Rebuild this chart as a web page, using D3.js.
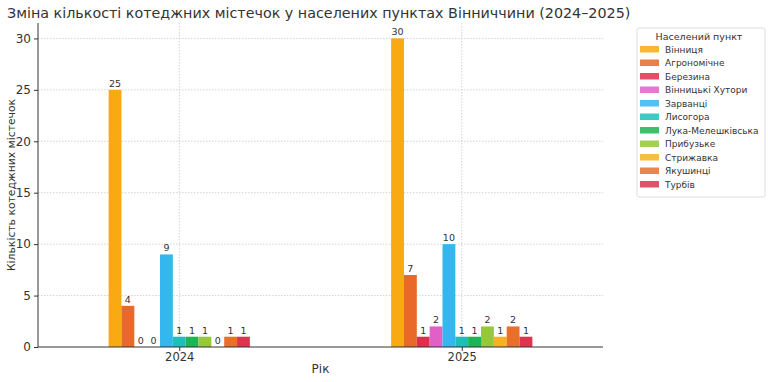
<!DOCTYPE html>
<html><head><meta charset="utf-8">
<script src="https://cdn.jsdelivr.net/npm/d3@7"></script>
<style>body{margin:0;background:#fff}svg{display:block;font-family:"DejaVu Sans",sans-serif}</style>
</head><body><svg id="c" width="768" height="382"></svg>
<script>
const years = ["2024", "2025"];
const places = ["Вінниця","Агрономічне","Березина","Вінницькі Хутори","Зарванці","Лисогора","Лука-Мелешківська","Прибузьке","Стрижавка","Якушинці","Турбів"];
const values2024 = [25,4,0,0,9,1,1,1,0,1,1];
const values2025 = [30,7,1,2,10,1,1,2,1,2,1];
const colors = ["#f9aa12","#e8692a","#df2f4c","#e35fc8","#34b7ef","#1ebfb9","#1cb455","#95c83a","#f8b122","#e8702b","#dd3550"];
const yTicks = [0,5,10,15,20,25,30];
const title = "Зміна кількості котеджних містечок у населених пунктах Вінниччини (2024–2025)";
const yLabel = "Кількість котеджних містечок";
const xLabel = "Рік";
const legendTitle = "Населений пункт";

const series = [values2024, values2025];
const svg = d3.select("#c");
const L = 38, R = 603, T = 23, B = 347;

const x = d3.scaleLinear().domain([-0.5, 1.5]).range([L, R]);
const y = d3.scaleLinear().domain([0, 31.5]).range([B, T]);
const n = places.length;
const bw = 0.5 / n;

// grid
svg.append("g").selectAll("line").data(yTicks.filter(d=>d>0)).join("line")
  .attr("x1", L).attr("x2", R).attr("y1", d=>y(d)).attr("y2", d=>y(d))
  .attr("stroke", "#c8c8c8").attr("stroke-width", 0.8).attr("stroke-dasharray", "1.5,1.5");
svg.append("g").selectAll("line").data(years).join("line")
  .attr("x1", (d,i)=>x(i)).attr("x2", (d,i)=>x(i)).attr("y1", T).attr("y2", B)
  .attr("stroke", "#c8c8c8").attr("stroke-width", 0.8).attr("stroke-dasharray", "1.5,1.5");

// bars
places.forEach((p, j) => {
  const g = svg.append("g");
  const data = years.map((yr, i) => ({i, v: series[i][j]}));
  g.selectAll("rect").data(data).join("rect")
    .attr("x", d => x(d.i - 0.25 + j*bw))
    .attr("width", x(bw) - x(0))
    .attr("y", d => y(d.v))
    .attr("height", d => B - y(d.v))
    .attr("fill", colors[j]);
  g.selectAll("text").data(data).join("text")
    .attr("x", d => x(d.i - 0.25 + (j+0.5)*bw))
    .attr("y", d => y(d.v) - 3)
    .attr("text-anchor", "middle").attr("font-size", 9.5).attr("fill", "#333")
    .text(d => d.v);
});

// axes
const yAxis = d3.axisLeft(y).tickValues(yTicks).tickSize(4).tickPadding(3);
const ga = svg.append("g").attr("transform", `translate(${L},0)`).call(yAxis);
ga.select(".domain").attr("stroke", "#333").attr("d", `M0,${T}V${B}`);
ga.selectAll(".tick line").attr("stroke", "#333");
ga.selectAll(".tick text").attr("font-size", 12).attr("fill", "#333").attr("font-family", "DejaVu Sans");

const xAxis = d3.axisBottom(x).tickValues([0,1]).tickFormat((d)=>years[d]).tickSize(4).tickPadding(2);
const gx = svg.append("g").attr("transform", `translate(0,${B})`).call(xAxis);
gx.select(".domain").attr("stroke", "#333").attr("d", `M${L},0H${R}`);
gx.selectAll(".tick line").attr("stroke", "#333");
gx.selectAll(".tick text").attr("font-size", 11.5).attr("fill", "#333").attr("font-family", "DejaVu Sans");

// labels
svg.append("text").attr("x", 7).attr("y", 18).attr("font-size", 14.3).attr("fill", "#333").text(title);
svg.append("text").attr("transform", `translate(15,${(T+B)/2}) rotate(-90)`).attr("text-anchor", "middle")
  .attr("font-size", 10.8).attr("fill", "#333").text(yLabel);
svg.append("text").attr("x", (L+R)/2).attr("y", 373).attr("text-anchor", "middle")
  .attr("font-size", 12).attr("fill", "#333").text(xLabel);

// legend
const lg = svg.append("g");
lg.append("rect").attr("x", 637).attr("y", 28).attr("width", 128).attr("height", 169).attr("rx", 2)
  .attr("fill", "#fff").attr("stroke", "#ddd");
lg.append("text").attr("x", 699).attr("y", 40).attr("text-anchor", "middle").attr("font-size", 9.5).attr("fill", "#333").text(legendTitle);
const items = lg.selectAll("g.it").data(places).join("g").attr("class", "it")
  .attr("transform", (d,i) => `translate(0,${49 + i*13.5})`);
items.append("rect").attr("x", 640).attr("y", -3).attr("width", 19).attr("height", 6.5)
  .attr("fill", (d,i)=>colors[i]).attr("opacity", 0.85);
items.append("text").attr("x", 665).attr("y", 3.5).attr("font-size", 9).attr("fill", "#333").text(d=>d);
</script></body></html>
